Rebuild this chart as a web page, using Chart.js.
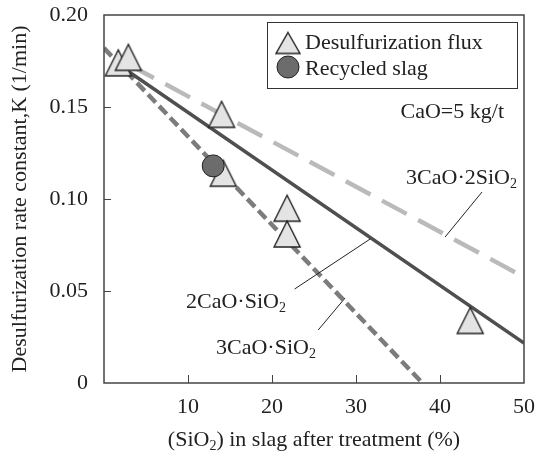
<!DOCTYPE html>
<html>
<head>
<meta charset="utf-8">
<script src="https://cdn.jsdelivr.net/npm/chart.js@4.4.0/dist/chart.umd.min.js"></script>
<style>
  body { margin: 0; background: #fff; }
  #wrap { width: 536px; height: 452px; }
</style>
</head>
<body>
<div id="wrap"><canvas id="kChart" width="536" height="452"></canvas></div>
<script>
// measured points
var fluxX = [1.7, 2.9, 14.0, 14.2, 21.8, 21.8, 43.6];
var fluxY = [0.174, 0.177, 0.146, 0.114, 0.095, 0.081, 0.034];
var slagX = [13.0];
var slagY = [0.118];

// fitted lines
var c3s2X = [3, 50];
var c3s2Y = [0.173, 0.0576];
var c2sX = [3, 50];
var c2sY = [0.169, 0.0217];
var c3sX = [0, 37.9];
var c3sY = [0.182, 0];

var xTickMarks = [10, 20, 30, 40];
var yTickMarks = [0.05, 0.10, 0.15];

var SERIF = "'Liberation Serif', 'DejaVu Serif', serif";
var INK = '#222';
var FS = 22;

function pts(xs, ys) {
    return xs.map(function (x, i) { return { x: x, y: ys[i] }; });
}

function makeTriangle(w, h) {
    var p = 3;
    var c = document.createElement('canvas');
    c.width = w + p * 2; c.height = h + p * 2;
    var g = c.getContext('2d');
    g.beginPath();
    g.moveTo(c.width / 2, p);
    g.lineTo(w + p, h + p);
    g.lineTo(p, h + p);
    g.closePath();
    g.fillStyle = '#e4e4e4';
    g.fill();
    g.lineWidth = 1.4;
    g.strokeStyle = INK;
    g.stroke();
    return c;
}
var triMark = makeTriangle(26, 26);
var triLegend = makeTriangle(24, 21);

// text with subscripts: parts = [[text, isSub], ...]
function chemText(ctx, parts, x, y, align, size) {
    var sub = Math.round(size * 0.65);
    var w = 0;
    parts.forEach(function (p) {
        ctx.font = (p[1] ? sub : size) + 'px ' + SERIF;
        w += ctx.measureText(p[0]).width;
    });
    var cx = align === 'center' ? x - w / 2 : (align === 'right' ? x - w : x);
    ctx.textAlign = 'left';
    ctx.textBaseline = 'middle';
    parts.forEach(function (p) {
        ctx.font = (p[1] ? sub : size) + 'px ' + SERIF;
        ctx.fillText(p[0], cx, p[1] ? y + size * 0.3 : y);
        cx += ctx.measureText(p[0]).width;
    });
}

function noPad(s) {
    s.paddingTop = 0; s.paddingBottom = 0;
    s.paddingLeft = 0; s.paddingRight = 0;
}

var decorPlugin = {
    id: 'decor',
    afterDatasetsDraw: function (chart) {
        var ctx = chart.ctx, a = chart.chartArea;
        var xs = chart.scales.x, ys = chart.scales.y;
        ctx.save();
        ctx.fillStyle = INK;
        ctx.strokeStyle = INK;

        // leader lines
        ctx.lineWidth = 1;
        [[45.0, 0.1038, 40.6, 0.0793], [22.7, 0.0511, 31.7, 0.0783], [25.5, 0.0288, 28.7, 0.0462]].forEach(function (l) {
            ctx.beginPath();
            ctx.moveTo(xs.getPixelForValue(l[0]), ys.getPixelForValue(l[1]));
            ctx.lineTo(xs.getPixelForValue(l[2]), ys.getPixelForValue(l[3]));
            ctx.stroke();
        });

        chemText(ctx, [['3CaO\u00b72SiO', false], ['2', true]], 517, 178, 'right', FS);
        chemText(ctx, [['2CaO\u00b7SiO', false], ['2', true]], 186, 302, 'left', FS);
        chemText(ctx, [['3CaO\u00b7SiO', false], ['2', true]], 216, 348, 'left', FS);
        chemText(ctx, [['CaO=5 kg/t', false]], 504, 112, 'right', FS);

        // legend box
        ctx.lineWidth = 1;
        ctx.strokeStyle = '#333';
        ctx.fillStyle = '#fff';
        ctx.fillRect(267.5, 22.5, 250, 66);
        ctx.strokeRect(267.5, 22.5, 250, 66);
        ctx.drawImage(triLegend, 288 - triLegend.width / 2, 43 - triLegend.height / 2);
        ctx.beginPath();
        ctx.arc(288, 67, 11, 0, Math.PI * 2);
        ctx.fillStyle = '#6c6c6c';
        ctx.fill();
        ctx.strokeStyle = INK;
        ctx.stroke();
        ctx.fillStyle = INK;
        chemText(ctx, [['Desulfurization flux', false]], 305, 43, 'left', FS);
        chemText(ctx, [['Recycled slag', false]], 305, 69, 'left', FS);

        // frame + inward ticks
        ctx.strokeStyle = '#444';
        ctx.lineWidth = 1.5;
        ctx.strokeRect(a.left, a.top, a.right - a.left, a.bottom - a.top);
        ctx.lineWidth = 1;
        xTickMarks.forEach(function (v) {
            var px = Math.round(xs.getPixelForValue(v)) + 0.5;
            ctx.beginPath(); ctx.moveTo(px, a.bottom); ctx.lineTo(px, a.bottom - 8); ctx.stroke();
        });
        yTickMarks.forEach(function (v) {
            var py = Math.round(ys.getPixelForValue(v)) + 0.5;
            ctx.beginPath(); ctx.moveTo(a.left, py); ctx.lineTo(a.left + 7, py); ctx.stroke();
        });

        // axis titles
        ctx.fillStyle = INK;
        chemText(ctx, [['(SiO', false], ['2', true], [') in slag after treatment (%)', false]], (a.left + a.right) / 2, 440, 'center', FS);
        ctx.translate(20, (a.top + a.bottom) / 2);
        ctx.rotate(-Math.PI / 2);
        chemText(ctx, [['Desulfurization rate constant,K (1/min)', false]], 0, 0, 'center', FS);
        ctx.restore();
    }
};

Chart.defaults.font.family = SERIF;
Chart.defaults.font.size = FS;
Chart.defaults.color = INK;

var kCtx = document.getElementById('kChart').getContext('2d');
var kChart = new Chart(kCtx, {
    type: 'scatter',
    data: {
        datasets: [{
            label: 'Recycled slag',
            data: pts(slagX, slagY),
            pointRadius: 11,
            pointBackgroundColor: '#6c6c6c',
            pointBorderColor: INK,
            pointBorderWidth: 1
        }, {
            label: 'Desulfurization flux',
            data: pts(fluxX, fluxY),
            pointStyle: triMark
        }, {
            label: '3CaO·2SiO2',
            type: 'line',
            data: pts(c3s2X, c3s2Y),
            borderColor: '#bababa',
            borderWidth: 4.5,
            borderDash: [28, 13],
            pointRadius: 0
        }, {
            label: '2CaO·SiO2',
            type: 'line',
            data: pts(c2sX, c2sY),
            borderColor: '#4f4f4f',
            borderWidth: 3.5,
            pointRadius: 0
        }, {
            label: '3CaO·SiO2',
            type: 'line',
            data: pts(c3sX, c3sY),
            borderColor: '#7c7c7c',
            borderWidth: 4.5,
            borderDash: [11, 5],
            pointRadius: 0
        }]
    },
    options: {
        responsive: false,
        animation: false,
        layout: { padding: { top: 15, right: 12, left: 0, bottom: 0 } },
        plugins: {
            legend: { display: false },
            tooltip: { enabled: false }
        },
        scales: {
            x: {
                type: 'linear',
                min: 0,
                max: 50,
                grid: { display: false, drawTicks: false },
                border: { display: false },
                ticks: {
                    stepSize: 10,
                    padding: 11,
                    maxRotation: 0,
                    callback: function (v) { return v === 0 ? '' : String(v); }
                },
                afterFit: function (s) { s.height = 69; noPad(s); }
            },
            y: {
                min: 0,
                max: 0.2,
                grid: { display: false, drawTicks: false },
                border: { display: false },
                ticks: {
                    stepSize: 0.05,
                    padding: 16,
                    callback: function (v) { return v === 0 ? '0' : v.toFixed(2); }
                },
                afterFit: function (s) { s.width = 104; noPad(s); }
            }
        }
    },
    plugins: [decorPlugin]
});
</script>
</body>
</html>
